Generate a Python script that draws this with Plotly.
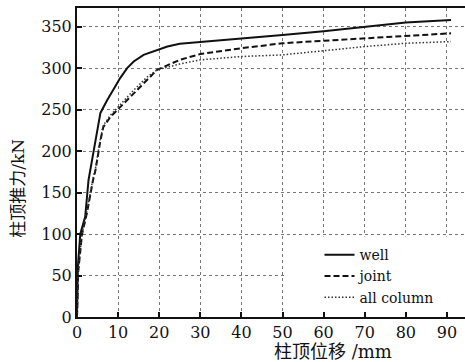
import plotly.graph_objects as go

# ---- data ----
well_x = [0, 0.2, 0.8, 2.0, 2.8, 4.0, 4.8, 5.7, 7.3, 8.9, 10.5, 12.2, 13.8, 16.2, 19.5, 22, 25, 30, 40, 50, 60, 70, 80, 91]
well_y = [0, 60, 100, 121, 165, 197, 221, 246, 261, 274, 288, 300, 308, 316, 322, 326, 329.5, 331.5, 336, 340, 344.5, 350, 355, 358]

joint_x = [0, 0.3, 1.2, 2.4, 3.9, 4.5, 5.7, 6.4, 8.1, 10.5, 13.7, 17, 19.5, 25, 30, 40, 50, 60, 70, 80, 91]
joint_y = [0, 55, 99, 125, 165, 177, 213, 229, 241, 253, 270, 286, 298, 310, 317, 324, 330, 333, 336, 339, 342]

allc_x = [0, 0.3, 1.2, 2.4, 3.9, 4.5, 5.7, 6.4, 8.1, 10.5, 13.7, 17, 19.5, 25, 30, 40, 50, 60, 70, 80, 91]
allc_y = [0, 55, 100, 127, 167, 179, 215, 231, 243, 256, 273, 289, 298, 305, 310, 314, 316, 321, 326, 330, 332]

series_names = ["well", "joint", "all column"]
x_ticks = [0, 10, 20, 30, 40, 50, 60, 70, 80, 90]
y_ticks = [0, 50, 100, 150, 200, 250, 300, 350]
x_title = "柱顶位移 /mm"
y_title = "柱顶推力/kN"

FONT = "DejaVu Serif, Noto Sans CJK SC"

fig = go.Figure()
fig.add_trace(go.Scatter(x=well_x, y=well_y, mode="lines", name=series_names[0],
                         line=dict(color="#111111", width=2, dash="solid")))
fig.add_trace(go.Scatter(x=joint_x, y=joint_y, mode="lines", name=series_names[1],
                         line=dict(color="#111111", width=2, dash="6px,3px")))
fig.add_trace(go.Scatter(x=allc_x, y=allc_y, mode="lines", name=series_names[2],
                         line=dict(color="#333333", width=1.5, dash="1.5px,2px")))

# white area behind the legend (covers grid)
fig.add_shape(type="rect", xref="x", yref="y", x0=50.4, x1=100, y0=-5, y1=97,
              fillcolor="white", line=dict(width=0), layer="between")

fig.update_layout(
    width=465, height=362,
    margin=dict(l=77, r=0, t=8, b=45),
    paper_bgcolor="white", plot_bgcolor="white",
    font=dict(family=FONT, size=16, color="#111111"),
    showlegend=True,
    legend=dict(x=0.625, y=0.252, xanchor="left", yanchor="top",
                bgcolor="rgba(0,0,0,0)", font=dict(family=FONT, size=14),
                tracegroupgap=0, itemwidth=30),
    annotations=[
        dict(text=x_title, xref="paper", yref="paper", x=0.66, y=-0.113,
             xanchor="center", yanchor="middle", showarrow=False,
             font=dict(family=FONT, size=18)),
        dict(text=y_title, xref="paper", yref="paper", x=-0.152, y=0.415,
             xanchor="center", yanchor="middle", showarrow=False, textangle=-90,
             font=dict(family=FONT, size=17)),
    ],
)

fig.update_xaxes(range=[0, 94.4], tickvals=x_ticks, ticks="inside", ticklen=5,
                 tickwidth=1.5, tickcolor="#111", showline=True, linewidth=2,
                 linecolor="#111", mirror=True, showgrid=True, gridcolor="#777",
                 griddash="dot", gridwidth=1, zeroline=False,
                 tickfont=dict(family=FONT, size=16))
fig.update_yaxes(range=[0, 372.5], tickvals=y_ticks, ticks="inside", ticklen=5,
                 tickwidth=1.5, tickcolor="#111", showline=True, linewidth=2,
                 linecolor="#111", showgrid=True, gridcolor="#777",
                 griddash="dot", gridwidth=1, zeroline=False,
                 tickfont=dict(family=FONT, size=16))

fig.write_html("out.html")
